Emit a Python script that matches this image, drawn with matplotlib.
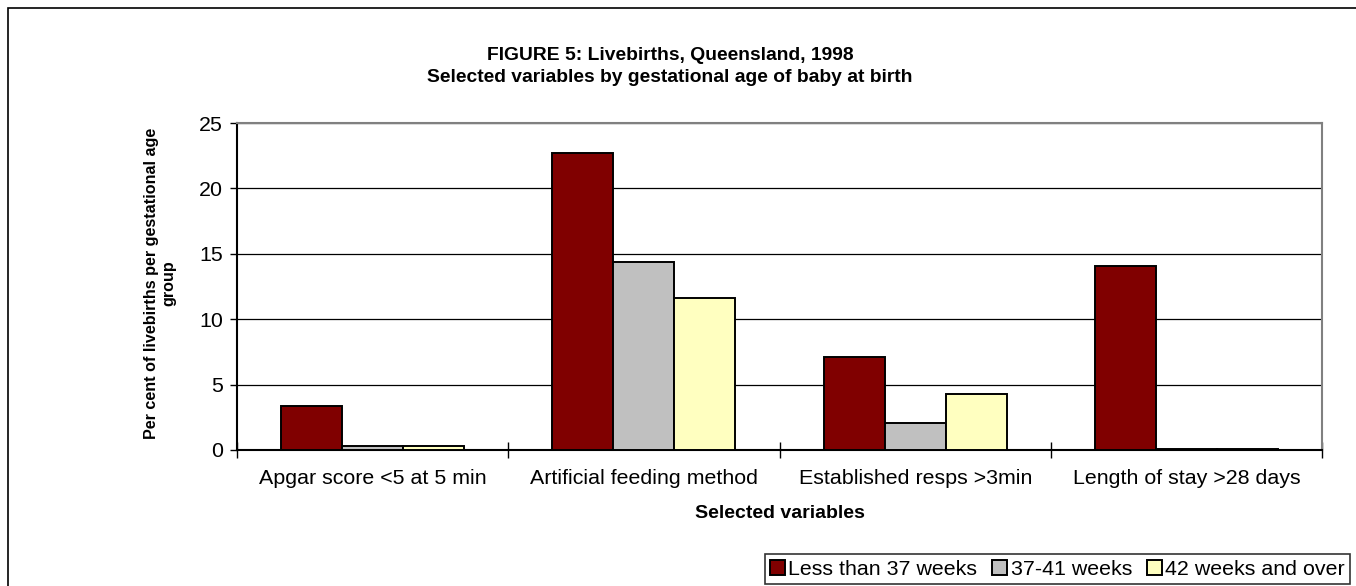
import matplotlib.pyplot as plt
import numpy as np

plt.rcParams['font.family'] = ['Liberation Sans', 'DejaVu Sans']

categories = ["Apgar score <5 at 5 min", "Artificial feeding method",
              "Established resps >3min", "Length of stay >28 days"]
series = ["Less than 37 weeks", "37-41 weeks", "42 weeks and over"]
less_37 = [3.4, 22.7, 7.1, 14.1]
w37_41 = [0.3, 14.4, 2.1, 0.1]
w42_over = [0.3, 11.6, 4.3, 0.1]
colors = ["#800000", "#C0C0C0", "#FFFFC0"]

fig = plt.figure(figsize=(13.56, 5.86), dpi=100)
ax = fig.add_axes([0.1748, 0.2321, 0.8002, 0.558])

x = np.arange(len(categories))
bw = 0.225
for i, vals in enumerate([less_37, w37_41, w42_over]):
    ax.bar(x + (i - 1) * bw, vals, bw, color=colors[i], edgecolor="black",
           linewidth=1.4, label=series[i], zorder=3)

ax.set_xlim(-0.5, len(categories) - 0.5)
ax.set_ylim(0, 25)
ax.set_yticks([0, 5, 10, 15, 20, 25])
ax.yaxis.grid(True, color="black", linewidth=0.9)
ax.set_axisbelow(True)

ax.set_xticks(x)
ax.set_xticklabels(categories, fontsize=15.4)
ax.tick_params(axis="x", length=0, pad=14)
ax.set_xticks(np.arange(len(categories) + 1) - 0.5, minor=True)
ax.tick_params(axis="x", which="minor", length=11, direction="inout", width=1)
ax.tick_params(axis="y", labelsize=15.4, length=5, width=1, pad=5)

for s in ["top", "right"]:
    ax.spines[s].set_color("#808080")
    ax.spines[s].set_linewidth(1.5)
for s in ["left", "bottom"]:
    ax.spines[s].set_color("black")
    ax.spines[s].set_linewidth(1.5)

fig.text(0.575, 0.123, "Selected variables", ha="center", va="center",
         fontsize=14, fontweight="bold")
fig.text(0.118, 0.517, "Per cent of livebirths per gestational age\ngroup",
         rotation=90, ha="center", va="center", multialignment="center",
         fontsize=11.6, fontweight="bold", linespacing=1.15)

fig.text(0.494, 0.905, "FIGURE 5: Livebirths, Queensland, 1998",
         ha="center", va="center", fontsize=13.9, fontweight="bold")
fig.text(0.494, 0.868, "Selected variables by gestational age of baby at birth",
         ha="center", va="center", fontsize=13.9, fontweight="bold")

leg = fig.legend(loc="lower right", bbox_to_anchor=(1350 / 1356, 2 / 586), ncol=3,
                 frameon=True, fancybox=False, fontsize=15.4, handlelength=0.7,
                 handleheight=0.7, handletextpad=0.15, columnspacing=0.7,
                 borderpad=0.25, borderaxespad=0)
leg.get_frame().set_edgecolor("black")
leg.get_frame().set_linewidth(1.2)

# outer chart border
fig.add_artist(plt.Rectangle((0.006, -0.01), 1.1, 0.997, transform=fig.transFigure,
                             fill=False, edgecolor="black", linewidth=1.2))

fig.savefig("out.png", dpi=100)
